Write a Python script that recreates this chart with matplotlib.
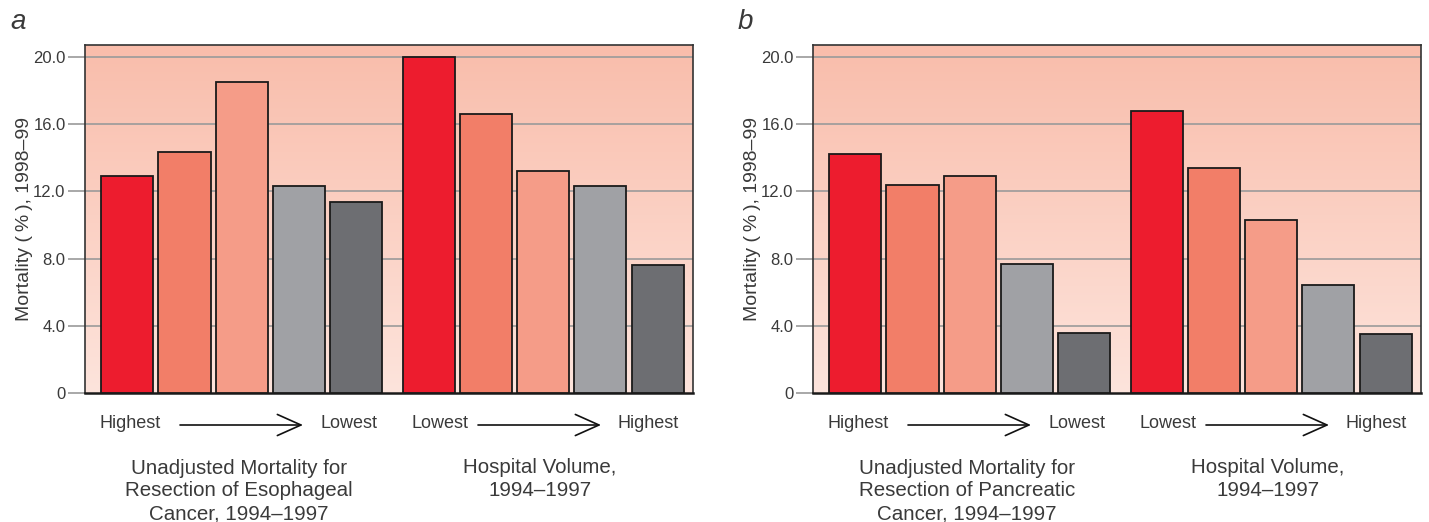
import numpy as np
import matplotlib
matplotlib.use("Agg")
from matplotlib import pyplot as plt

# valores (mortalidade %, 1998-99)
esofago_mortalidade = [12.9, 14.35, 18.5, 12.3, 11.35]
esofago_volume = [20.0, 16.6, 13.2, 12.3, 7.6]
pancreas_mortalidade = [14.2, 12.35, 12.9, 7.7, 3.6]
pancreas_volume = [16.8, 13.4, 10.3, 6.4, 3.5]

yticks = [0, 4, 8, 12, 16, 20]
ytick_labels = ["0", "4.0", "8.0", "12.0", "16.0", "20.0"]

CORES = ["#ed1c2e", "#f27e68", "#f59c88", "#a0a1a5", "#6d6e72"]
TEXTO = "#3a3a3a"
W, H = 1429, 522

plt.rcParams['font.family'] = ['Liberation Sans', 'DejaVu Sans']


def fx(x):
    return x / W


def fy(y):
    return 1 - y / H


def desenha_painel(fig, left_px, letra, grupo1, grupo2, titulo1):
    ax = fig.add_axes([fx(left_px), fy(393), 608 / W, 348 / H])
    ymax = 20.71
    xmin, xmax = -0.74, 9.89

    grad = np.linspace(0, 1, 256).reshape(-1, 1)
    topo = np.array([0xf9, 0xbd, 0xab]) / 255
    base = np.array([0xfd, 0xe4, 0xdc]) / 255
    img = topo + (base - topo) * grad[:, :, None]
    ax.imshow(img, extent=[xmin, xmax, 0, ymax], aspect="auto", origin="upper", zorder=0)

    pos = np.r_[np.arange(5), np.arange(5) + 5.27]
    valores = list(grupo1) + list(grupo2)
    ax.bar(pos, valores, width=0.91, color=CORES * 2, edgecolor="#1a1a1a", linewidth=1.3, zorder=3)

    for t in yticks[1:]:
        ax.axhline(t, color="#9a9a9a", linewidth=1.2, zorder=1)

    ax.set_xlim(xmin, xmax)
    ax.set_ylim(0, ymax)
    ax.set_xticks([])
    ax.set_yticks(yticks)
    ax.set_yticklabels(ytick_labels, fontsize=12, color=TEXTO)
    ax.tick_params(axis="y", length=12, width=1.2, color="#9a9a9a", pad=2)
    for s in ["left", "top", "right"]:
        ax.spines[s].set_color("#333333")
        ax.spines[s].set_linewidth(1.2)
    ax.spines["bottom"].set_color("#1a1a1a")
    ax.spines["bottom"].set_linewidth(1.8)
    ax.set_ylabel("Mortality (\u2009%\u2009), 1998–99", fontsize=14, color=TEXTO)
    ax.yaxis.set_label_coords(-52 / 608, 0.5)

    fig.text(fx(left_px - 75), fy(22), letra, fontsize=20, style="italic",
             color=TEXTO, ha="left", va="center")

    o = left_px - 85
    fig.text(fx(o + 130), fy(423), "Highest", fontsize=13, color=TEXTO, ha="center", va="center")
    fig.text(fx(o + 349), fy(423), "Lowest", fontsize=13, color=TEXTO, ha="center", va="center")
    fig.text(fx(o + 440), fy(423), "Lowest", fontsize=13, color=TEXTO, ha="center", va="center")
    fig.text(fx(o + 648), fy(423), "Highest", fontsize=13, color=TEXTO, ha="center", va="center")
    for x0, x1 in [(o + 180, o + 303), (o + 478, o + 601)]:
        fig.patches.append(matplotlib.patches.FancyArrowPatch(
            (fx(x0), fy(425)), (fx(x1), fy(425)), transform=fig.transFigure,
            arrowstyle="->,head_length=0.85,head_width=0.38", mutation_scale=20,
            color="#111111", linewidth=1.2, shrinkA=0, shrinkB=0))

    fig.text(fx(o + 239), fy(491), titulo1, fontsize=14.8, color=TEXTO,
             ha="center", va="center", linespacing=1.24)
    fig.text(fx(o + 540), fy(479), "Hospital Volume,\n1994–1997", fontsize=14.8, color=TEXTO,
             ha="center", va="center", linespacing=1.24)
    return ax


fig = plt.figure(figsize=(W / 100, H / 100), dpi=100)
desenha_painel(fig, 85, "a", esofago_mortalidade, esofago_volume,
               "Unadjusted Mortality for\nResection of Esophageal\nCancer, 1994–1997")
desenha_painel(fig, 813, "b", pancreas_mortalidade, pancreas_volume,
               "Unadjusted Mortality for\nResection of Pancreatic\nCancer, 1994–1997")

fig.savefig("out.png", dpi=100)
